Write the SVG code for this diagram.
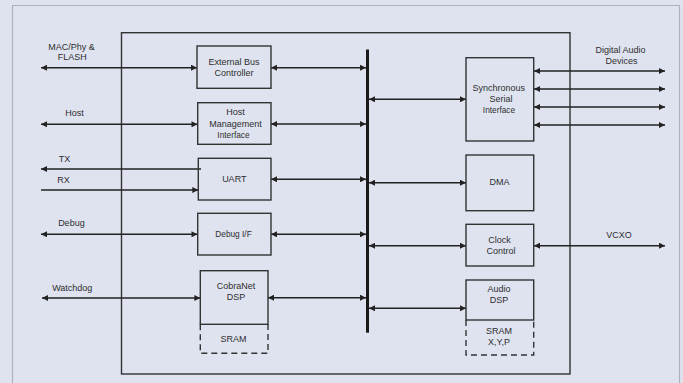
<svg xmlns="http://www.w3.org/2000/svg" width="683" height="383" viewBox="0 0 683 383">
<defs>
<style>
text{font-family:"Liberation Sans",Arial,sans-serif;font-size:9px;fill:#2e2e2e;text-anchor:middle}
.sm{font-size:8.3px}
.box{fill:none;stroke:#333;stroke-width:1.4}
.dash{fill:none;stroke:#333;stroke-width:1.4;stroke-dasharray:6,4}
.ln{fill:none;stroke:#222;stroke-width:1.5}
.bi{marker-start:url(#ah);marker-end:url(#ah)}
.e{marker-end:url(#ah)}
.s{marker-start:url(#ah)}
</style>
<marker id="ah" viewBox="0 0 10 10" refX="10" refY="5" markerWidth="7" markerHeight="6" markerUnits="userSpaceOnUse" orient="auto-start-reverse">
<path d="M0,0 L10,5 L0,10 z" fill="#222"/>
</marker>
</defs>
<rect x="0" y="0" width="683" height="383" fill="#dfe3f0"/>
<path d="M12.5,390 V5.5 H679.5 V390" fill="none" stroke="#aeb2c2" stroke-width="1.2"/>
<rect id="chip" x="121.5" y="32.7" width="448.5" height="341.3" class="box"/>
<rect id="bus" x="366" y="49.5" width="3" height="283.2" fill="#1a1a1a"/>

<g id="connectors">
<path class="ln bi" d="M41,67.7 H197"/>
<path class="ln bi" d="M41,124.3 H197.5"/>
<path class="ln s" d="M41,169 H201"/>
<path class="ln e" d="M41,190 H198.3"/>
<path class="ln bi" d="M41,234.3 H197.5"/>
<path class="ln bi" d="M42,298 H200.3"/>
<path class="ln bi" d="M271,67.7 H366"/>
<path class="ln bi" d="M271,124 H366"/>
<path class="ln bi" d="M271,179.3 H366"/>
<path class="ln bi" d="M271,234.3 H366"/>
<path class="ln bi" d="M268,297.7 H366"/>
<path class="ln bi" d="M369,99.3 H466"/>
<path class="ln bi" d="M369,182.7 H466"/>
<path class="ln bi" d="M369,245.7 H466"/>
<path class="ln bi" d="M369,308.3 H466"/>
<path class="ln bi" d="M534,71 H665"/>
<path class="ln bi" d="M534,89 H665"/>
<path class="ln bi" d="M534,107 H665"/>
<path class="ln bi" d="M534,125 H665"/>
<path class="ln bi" d="M534,245.7 H665"/>
</g>

<g id="labels">
<text x="71.5" y="49.5">MAC/Phy &amp;</text>
<text x="72.3" y="59.5">FLASH</text>
<text x="74.5" y="116">Host</text>
<text x="64.5" y="161.5">TX</text>
<text x="63.6" y="182.5">RX</text>
<text x="71.4" y="226">Debug</text>
<text x="72.3" y="291">Watchdog</text>
<text x="620.6" y="52.5">Digital Audio</text>
<text x="621.5" y="63.5">Devices</text>
<text x="619" y="238">VCXO</text>
</g>

<g id="ebc">
<rect x="197" y="46" width="74" height="42.3" class="box"/>
<text x="234" y="64.5">External Bus</text>
<text x="234" y="75.5">Controller</text>
</g>
<g id="hmi">
<rect x="197.7" y="102.7" width="73.3" height="41.6" class="box"/>
<text x="235.6" y="115">Host</text>
<text x="235.6" y="126.5">Management</text>
<text x="233.5" y="137.5" class="sm">Interface</text>
</g>
<g id="uart">
<rect x="198.3" y="158.3" width="72.7" height="41.7" class="box"/>
<text x="234.3" y="182">UART</text>
</g>
<g id="debug">
<rect x="197.7" y="213.3" width="73.3" height="41.7" class="box"/>
<text x="233.5" y="236.5" class="sm">Debug I/F</text>
</g>
<g id="cobranet">
<rect x="200.3" y="270.7" width="67.7" height="53.6" class="box"/>
<text x="236" y="288.5">CobraNet</text>
<text x="236" y="299.5">DSP</text>
</g>
<g id="sram1">
<path class="dash" d="M200.3,324.3 V353.3 H268 V324.3"/>
<text x="233.5" y="341.5">SRAM</text>
</g>
<g id="ssi">
<rect x="466" y="57.7" width="67.7" height="83.3" class="box"/>
<text x="498.7" y="91">Synchronous</text>
<text x="500.9" y="102">Serial</text>
<text x="499" y="113" class="sm">Interface</text>
</g>
<g id="dma">
<rect x="466" y="155" width="67.7" height="55.7" class="box"/>
<text x="499.6" y="185">DMA</text>
</g>
<g id="clock">
<rect x="466" y="224.3" width="67.7" height="41.7" class="box"/>
<text x="499.6" y="242.5">Clock</text>
<text x="500.9" y="253.5">Control</text>
</g>
<g id="audiodsp">
<rect x="466" y="280" width="67.7" height="40" class="box"/>
<text x="499" y="292">Audio</text>
<text x="499" y="302.5">DSP</text>
</g>
<g id="sram2">
<path class="dash" d="M466,320 V355 H533.7 V320"/>
<text x="499" y="334">SRAM</text>
<text x="499" y="345">X,Y,P</text>
</g>
</svg>
